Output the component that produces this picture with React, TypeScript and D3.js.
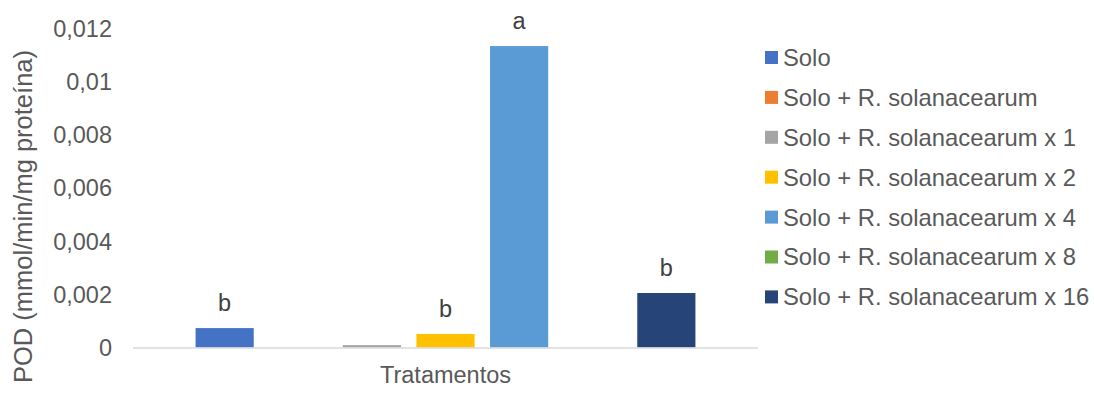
import React from 'react';
import * as d3 from 'd3';

// series (one category: Tratamentos)
const series = [
  'Solo',
  'Solo + R. solanacearum',
  'Solo + R. solanacearum x 1',
  'Solo + R. solanacearum x 2',
  'Solo + R. solanacearum x 4',
  'Solo + R. solanacearum x 8',
  'Solo + R. solanacearum x 16',
];
const values = [0.00073, 0, 0.00009, 0.00051, 0.01134, 0, 0.00205];
const letters = ['b', '', '', 'b', 'a', '', 'b'];
const colors = ['#4472C4', '#ED7D31', '#A5A5A5', '#FFC000', '#5B9BD5', '#70AD47', '#264478'];
const yTicks = [0, 0.002, 0.004, 0.006, 0.008, 0.01, 0.012];
const yTickLabels = ['0', '0,002', '0,004', '0,006', '0,008', '0,01', '0,012'];
const category = 'Tratamentos';
const yTitle = 'POD (mmol/min/mg proteína)';

const width = 1094;
const height = 394;
const plot = { left: 133, right: 758, top: 28.5, bottom: 347.5 };
const font = '"Liberation Sans", Arial, sans-serif';

export default function App() {
  const x = d3.scaleBand<string>()
    .domain(series)
    .range([plot.left, plot.right])
    .paddingInner(0.21)
    .paddingOuter(0.85);
  const y = d3.scaleLinear().domain([0, 0.012]).range([plot.bottom, plot.top]);

  return (
    <svg
      width={width}
      height={height}
      style={{ position: 'absolute', left: 0, top: 0, background: 'white', fontFamily: font }}
    >
      {/* y tick labels */}
      {yTicks.map((t, i) => (
        <text key={t} x={112} y={y(t) + 8.4} textAnchor="end" fontSize={23.5} fill="#595959">
          {yTickLabels[i]}
        </text>
      ))}

      {/* bars */}
      {series.map((s, i) => (
        <rect
          key={s}
          x={x(s)}
          y={y(values[i])}
          width={x.bandwidth()}
          height={y(0) - y(values[i])}
          fill={colors[i]}
        />
      ))}

      {/* axis line */}
      <line x1={plot.left} x2={plot.right} y1={y(0) + 0.5} y2={y(0) + 0.5} stroke="#d9d9d9" strokeWidth={1.5} />

      {/* letters above bars */}
      {series.map((s, i) => letters[i] ? (
        <text
          key={s + '-l'}
          x={(x(s) as number) + x.bandwidth() / 2}
          y={y(values[i]) - 17}
          textAnchor="middle"
          fontSize={23.5}
          fill="#404040"
        >
          {letters[i]}
        </text>
      ) : null)}

      {/* category label */}
      <text x={(plot.left + plot.right) / 2} y={383} textAnchor="middle" fontSize={23.5} fill="#595959">
        {category}
      </text>

      {/* y title */}
      <text
        transform={`translate(32,50) rotate(-90)`}
        textAnchor="end"
        fontSize={25.5}
        fill="#595959"
      >
        {yTitle}
      </text>

      {/* legend */}
      {series.map((s, i) => {
        const cy = 57.5 + i * 39.9;
        return (
          <g key={s + '-leg'}>
            <rect x={765} y={cy - 6.5} width={13} height={13} fill={colors[i]} />
            <text x={783} y={cy + 8.4} fontSize={23.8} fill="#595959">{s}</text>
          </g>
        );
      })}
    </svg>
  );
}
